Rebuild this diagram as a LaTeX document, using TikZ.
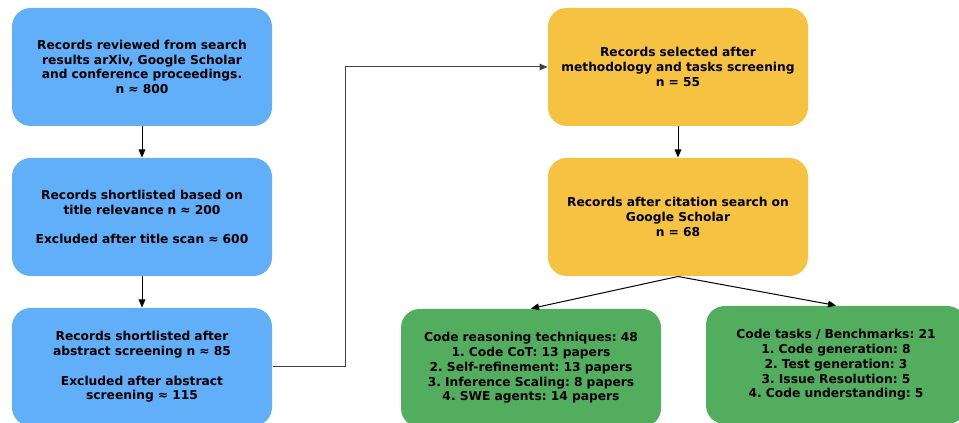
\documentclass[tikz,border=0pt]{standalone}
\usepackage{fontspec}
\setmainfont{DejaVu Sans}
\usetikzlibrary{arrows.meta}

\definecolor{boxblue}{RGB}{97,174,249}
\definecolor{boxyellow}{RGB}{245,194,66}
\definecolor{boxgreen}{RGB}{82,174,94}

\tikzset{every picture/.style={line width=0.75pt}}
\tikzset{
  stagebox/.style={rounded corners=14pt, minimum width=195pt, minimum height=88.5pt,
    text width=190pt, align=center, inner sep=0.75pt,
    font=\frenchspacing\bfseries\fontsize{9.2}{11.1}\selectfont},
  flowarrow/.style={-{Triangle[length=6pt,width=5pt]}, line width=0.75pt}
}

\begin{document}
\begin{tikzpicture}[x=0.75pt,y=0.75pt,yscale=-1,xscale=1]
    \useasboundingbox (0,0) rectangle (959,423);

    %Shape: Rounded Rect [id:search]
    \node [stagebox, fill=boxblue] (search) at (142,67) {Records reviewed from search\\results arXiv, Google Scholar\\and conference proceedings.\\n ≈ 800};
    %Shape: Rounded Rect [id:title]
    \node [stagebox, fill=boxblue] (title) at (142,217) {Records shortlisted based on\\title relevance n ≈ 200\\[11.1pt]Excluded after title scan ≈ 600};
    %Shape: Rounded Rect [id:abstract]
    \node [stagebox, fill=boxblue] (abstract) at (142,367) {Records shortlisted after\\abstract screening n ≈ 85\\[11.1pt]Excluded after abstract\\screening ≈ 115};
    %Shape: Rounded Rect [id:method]
    \node [stagebox, fill=boxyellow] (method) at (678,67) {Records selected after\\methodology and tasks screening\\n = 55};
    %Shape: Rounded Rect [id:citation]
    \node [stagebox, fill=boxyellow] (citation) at (678,217) {Records after citation search on\\Google Scholar\\n = 68};
    %Shape: Rounded Rect [id:techniques]
    \node [stagebox, fill=boxgreen] (techniques) at (531,368) {Code reasoning techniques: 48\\1. Code CoT: 13 papers\\2. Self-refinement: 13 papers\\3. Inference Scaling: 8 papers\\4. SWE agents: 14 papers};
    %Shape: Rounded Rect [id:tasks]
    \node [stagebox, fill=boxgreen] (tasks) at (836,365) {Code tasks / Benchmarks: 21\\1. Code generation: 8\\2. Test generation: 3\\3. Issue Resolution: 5\\4. Code understanding: 5};

    %Straight Lines
    \draw [flowarrow] (search) -- (title);
    \draw [flowarrow] (title) -- (abstract);
    \draw [flowarrow] (method) -- (citation);
    \draw [flowarrow] (citation.south) -- (techniques.north);
    \draw [flowarrow] (citation.south) -- (tasks.north);
    %Elbow Connector
    \draw [flowarrow, color=black!75] (abstract.east) -- ++(73,0) |- (method.west);

\end{tikzpicture}
\end{document}
